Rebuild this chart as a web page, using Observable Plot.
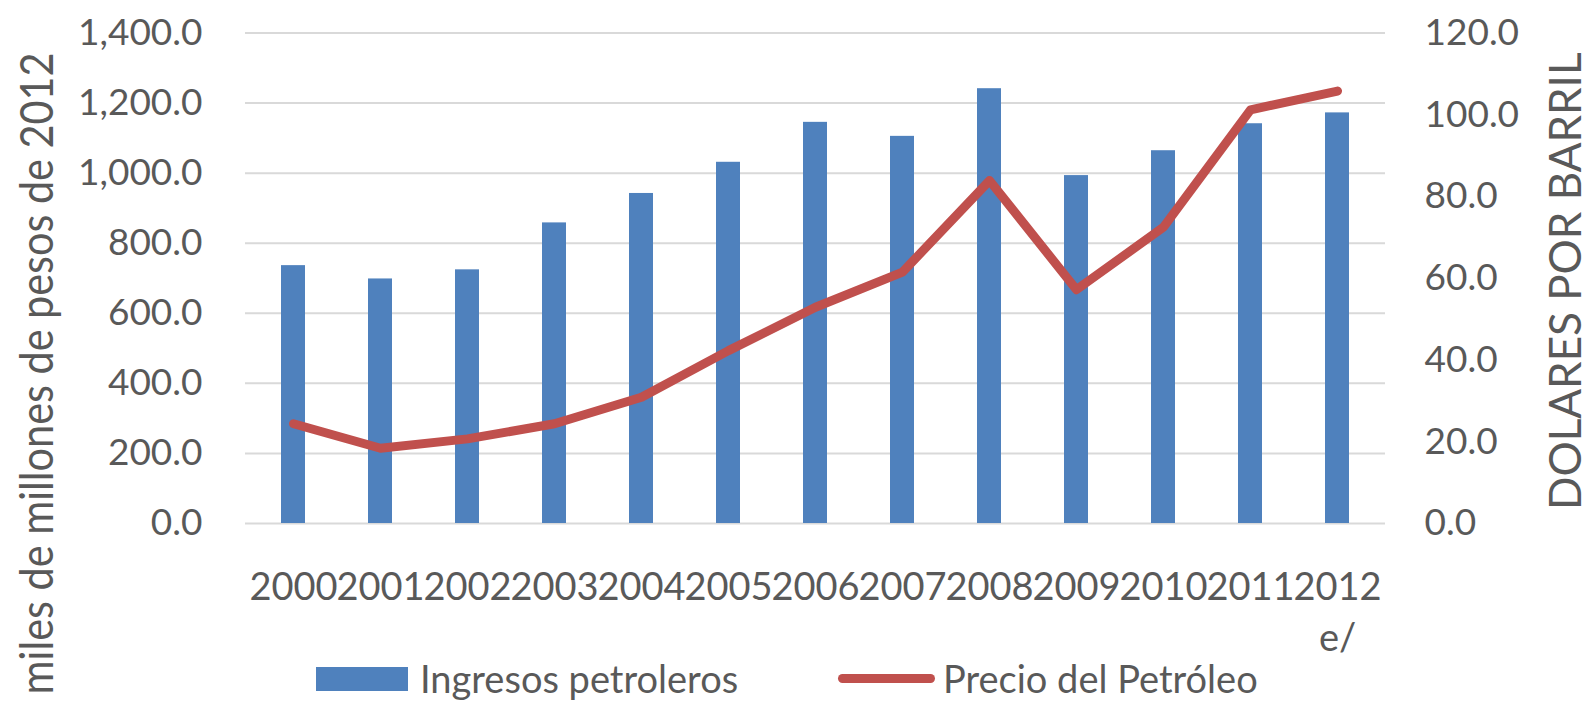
<!DOCTYPE html>
<html>
<head>
<meta charset="utf-8">
<script src="https://cdn.jsdelivr.net/npm/d3@7"></script>
<script src="https://cdn.jsdelivr.net/npm/@observablehq/plot@0.6"></script>
<style>
  html, body { margin: 0; padding: 0; background: #fff; }
  #wrap { position: relative; width: 1590px; height: 704px; overflow: hidden; font-family: Lato, "Open Sans", sans-serif; color: #595959; }
  #chart svg { display: block; }
  .leg { position: absolute; font-size: 38px; line-height: 1; white-space: nowrap; }
</style>
</head>
<body>
<div id="wrap">
  <div id="chart"></div>
  <div id="legend"></div>
</div>
<script>
const years = ["2000","2001","2002","2003","2004","2005","2006","2007","2008","2009","2010","2011","2012"];
const yearLabels = ["2000","2001","2002","2003","2004","2005","2006","2007","2008","2009","2010","2011","2012\ne/"];
const ingresos = [736, 698, 724, 858, 942, 1031, 1145, 1105, 1241, 993, 1064, 1141, 1172];
const precio = [24.4, 18.4, 20.7, 24.4, 30.9, 42.3, 52.9, 61.5, 83.9, 57.2, 72.5, 101.2, 105.8];
const leftTicks = [0, 200, 400, 600, 800, 1000, 1200, 1400];
const rightTicks = [0, 20, 40, 60, 80, 100, 120];
const leftTitle = "miles de millones de pesos de 2012";
const rightTitle = "DOLARES POR BARRIL";
const seriesNames = ["Ingresos petroleros", "Precio del Petróleo"];
const colors = ["#4F81BD", "#C0504D"];

const leftMax = 1400, rightMax = 120;
const k = leftMax / rightMax;

const barData = years.map((y, i) => ({year: y, value: ingresos[i]}));
const lineData = years.map((y, i) => ({year: y, value: precio[i] * k}));
const labelOf = new Map(years.map((y, i) => [y, yearLabels[i]]));
const fmt = d3.format(",.1f");

const W = 1590, H = 650;
const chart = Plot.plot({
  width: W,
  height: H,
  marginTop: 32.5,
  marginBottom: 127,
  marginLeft: 245,
  marginRight: 205,
  style: {fontFamily: "Lato, 'Open Sans', sans-serif", color: "#595959", background: "white", overflow: "visible"},
  x: {domain: years, paddingInner: 0.72, paddingOuter: 0.36, axis: null},
  y: {domain: [0, leftMax], axis: null},
  marks: [
    Plot.gridY(leftTicks, {stroke: "#d9d9d9", strokeOpacity: 1, strokeWidth: 2}),
    Plot.barY(barData, {x: "year", y: "value", fill: colors[0]}),
    Plot.line(lineData, {x: "year", y: "value", stroke: colors[1], strokeWidth: 9, strokeLinejoin: "round", strokeLinecap: "round"}),
    Plot.axisY(leftTicks, {anchor: "left", tickSize: 0, tickPadding: 43, tickFormat: fmt, fontSize: 37, fill: "#595959", label: null}),
    Plot.axisY(rightTicks.map(d => d * k), {anchor: "right", tickSize: 0, tickPadding: 39, tickFormat: d => (d / k).toFixed(1), fontSize: 37, fill: "#595959", label: null}),
    Plot.axisX({anchor: "bottom", tickSize: 0, tickPadding: 40, tickFormat: d => labelOf.get(d), fontSize: 38, fill: "#595959", lineHeight: 1.35, label: null}),
    Plot.text([leftTitle], {text: d => d, frameAnchor: "bottom-left", dx: 37.3 - 245, dy: 171, rotate: -90, textAnchor: "start", lineAnchor: "middle", fontSize: 46, fill: "#595959"}),
    Plot.text([rightTitle], {text: d => d, frameAnchor: "right", dx: 1566 - 1385, dy: 3, rotate: -90, textAnchor: "middle", lineAnchor: "middle", fontSize: 44, fill: "#595959"})
  ]
});
d3.select(chart).selectAll("text")
  .filter(function() { return this.textContent === leftTitle; })
  .attr("textLength", 642)
  .attr("lengthAdjust", "spacingAndGlyphs");
document.getElementById("chart").appendChild(chart);

// Legend
const leg = document.getElementById("legend");
leg.innerHTML = `
  <div style="position:absolute;left:316px;top:667px;width:92px;height:24px;background:${colors[0]}"></div>
  <div class="leg" style="left:420px;top:659px;">${seriesNames[0]}</div>
  <div style="position:absolute;left:838px;top:674px;width:97px;height:9px;border-radius:5px;background:${colors[1]}"></div>
  <div class="leg" style="left:943px;top:659px;">${seriesNames[1]}</div>
`;
</script>
</body>
</html>
